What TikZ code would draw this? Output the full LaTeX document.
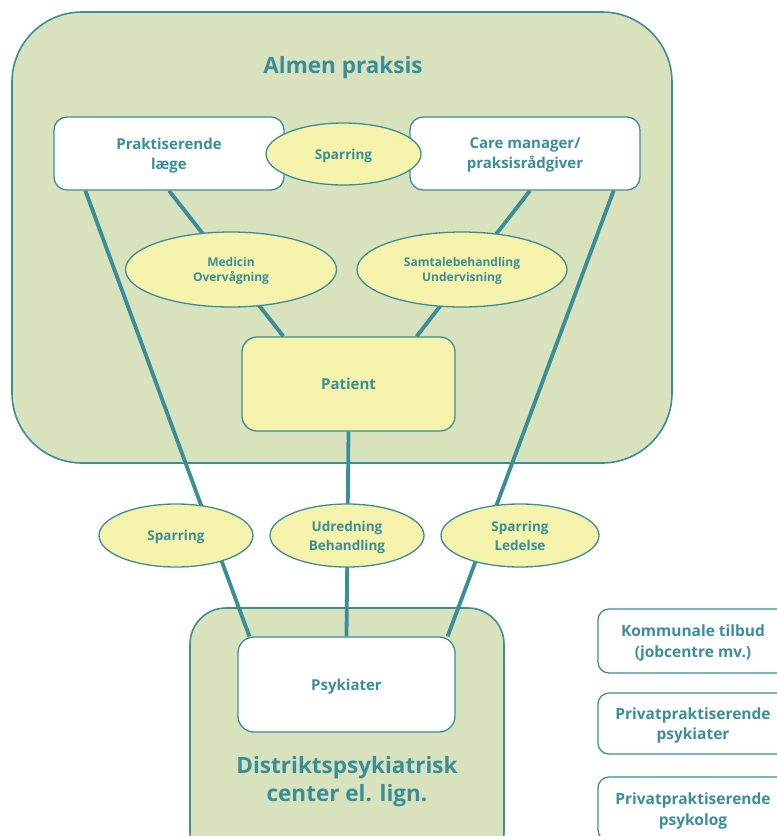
\documentclass[tikz,border=0pt]{standalone}
\usepackage{fontspec}
\setmainfont{Open Sans}
\usetikzlibrary{shapes.geometric,positioning}
\definecolor{teal1}{HTML}{3A8E9A}
\definecolor{green1}{HTML}{D8E3BE}
\definecolor{yellow1}{HTML}{F5F2AB}
\pgfdeclarelayer{bg}
\pgfdeclarelayer{mid}
\pgfsetlayers{bg,mid,main}
\tikzset{
  every node/.style={text=teal1, font=\bfseries, align=center},
  region/.style={draw=teal1, line width=1.6pt, fill=green1},
  whitebox/.style={draw=teal1, line width=1.3pt, fill=white, rounded corners=13pt, text depth=0pt, font=\fontsize{15}{20}\bfseries},
  patbox/.style={draw=teal1, line width=1.3pt, fill=yellow1, rounded corners=15pt, font=\fontsize{15}{18}\bfseries},
  oval/.style={ellipse, draw=teal1, line width=1.3pt, fill=yellow1, inner sep=0pt, text depth=0pt, font=\fontsize{13.5}{19}\bfseries},
  smalloval/.style={oval, font=\fontsize{12}{15.5}\bfseries},
  link/.style={draw=teal1, line width=3.8pt},
  sidebox/.style={draw=teal1, line width=1.3pt, fill=white, rounded corners=11pt, text depth=0pt, font=\fontsize{15.5}{20.5}\bfseries},
}
\begin{document}
\begin{tikzpicture}[x=1pt,y=-1pt]
\useasboundingbox (0,0) rectangle (777,836);
\clip (0,0) rectangle (777,836);
% regions
\begin{pgfonlayer}{bg}
\clip (0,0) rectangle (777,836);
\fill[white] (0,0) rectangle (777,836);
\node[region, rounded corners=70pt, minimum width=660pt, minimum height=451pt] (almen) at (342,237.5) {};
\node[region, rounded corners=36pt, minimum width=314pt, minimum height=260pt] (dpc) at (347,738) {};
\end{pgfonlayer}
\node[font=\fontsize{22.5}{26}\bfseries] (almentitle) at (343,67.5) {Almen praksis};
\node[font=\fontsize{22.5}{28}\bfseries, text depth=0pt] (dpctitle) at (347,779) {Distriktspsykiatrisk\\center el. lign.};
% boxes
\node[whitebox, minimum width=230pt, minimum height=73pt] (prak) at (169,153.5) {Praktiserende\\l\ae ge};
\node[whitebox, minimum width=230pt, minimum height=73pt] (care) at (525,153.5) {Care manager/\\praksisr\aa dgiver};
\node[oval, minimum width=155pt, minimum height=62pt] (sparTop) at (343.5,154) {Sparring};
\node[smalloval, minimum width=211pt, minimum height=75pt] (medicin) at (231,269.5) {Medicin\\Overv\aa gning};
\node[smalloval, minimum width=210pt, minimum height=75pt] (samtale) at (462,269.5) {Samtalebehandling\\Undervisning};
\node[patbox, minimum width=213pt, minimum height=94pt] (patient) at (348.5,384) {Patient};
\node[oval, minimum width=154pt, minimum height=63pt] (sparL) at (176,535.5) {Sparring};
\node[oval, minimum width=154pt, minimum height=63pt] (udred) at (347,535.5) {Udredning\\Behandling};
\node[oval, minimum width=158pt, minimum height=63pt] (sparR) at (520,535.5) {Sparring\\Ledelse};
\node[whitebox, rounded corners=16pt, minimum width=217pt, minimum height=95pt] (psy) at (346.5,684.5) {Psykiater};
% side boxes
\node[sidebox, minimum width=190pt, minimum height=64pt] (komm) at (693,641) {Kommunale tilbud\\(jobcentre mv.)};
\node[sidebox, minimum width=190pt, minimum height=61pt] (ppsy) at (693,723.5) {Privatpraktiserende\\psykiater};
\node[sidebox, minimum width=190pt, minimum height=64pt] (ppsk) at (693,809) {Privatpraktiserende\\psykolog};
% connectors
\begin{pgfonlayer}{mid}
\draw[link] ([xshift=32pt]prak.south west) -- ([xshift=12pt]psy.north west);
\draw[link] (prak.south) -- ([xshift=42pt]patient.north west);
\draw[link] ([xshift=5pt]care.south) -- ([xshift=-39pt]patient.north east);
\draw[link] ([xshift=-27pt]care.south east) -- ([xshift=-8pt]psy.north east);
\draw[link] (patient.south) -- (psy.north);
\end{pgfonlayer}
\end{tikzpicture}
\end{document}
